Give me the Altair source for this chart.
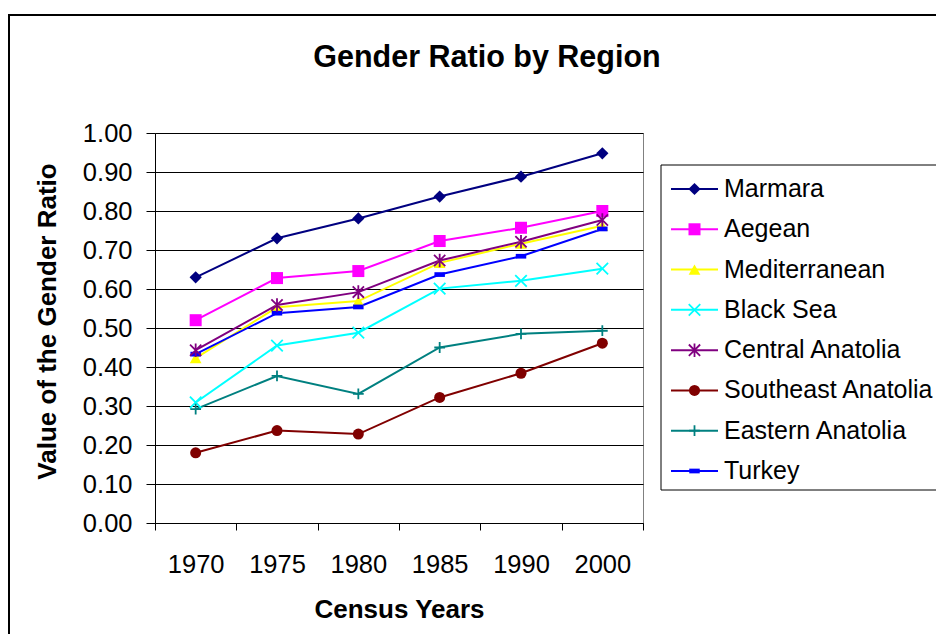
import altair as alt
import pandas as pd

# ---- data ----
years = ["1970", "1975", "1980", "1985", "1990", "2000"]
regions = ["Marmara", "Aegean", "Mediterranean", "Black Sea", "Central Anatolia",
           "Southeast Anatolia", "Eastern Anatolia", "Turkey"]
marmara = [0.630, 0.730, 0.781, 0.837, 0.888, 0.948]
aegean = [0.520, 0.628, 0.646, 0.723, 0.757, 0.800]
mediterranean = [0.423, 0.553, 0.569, 0.667, 0.716, 0.762]
black_sea = [0.309, 0.455, 0.488, 0.601, 0.621, 0.652]
central_anatolia = [0.443, 0.559, 0.592, 0.673, 0.721, 0.777]
southeast_anatolia = [0.180, 0.237, 0.228, 0.322, 0.384, 0.461]
eastern_anatolia = [0.292, 0.377, 0.331, 0.450, 0.485, 0.493]
turkey = [0.433, 0.538, 0.554, 0.637, 0.684, 0.754]
y_ticks = [0.0, 0.1, 0.2, 0.3, 0.4, 0.5, 0.6, 0.7, 0.8, 0.9, 1.0]
chart_title = "Gender Ratio by Region"

# ---- styles ----
colors = ["#000080", "#FF00FF", "#FFFF00", "#00FFFF", "#800080", "#800000", "#008080", "#0000FF"]
shapes = ["diamond", "square", "triangle-up",
          "M-1,-1L1,1M-1,1L1,-1",
          "M-1,-1L1,1M-1,1L1,-1M0,-1.2L0,1.2",
          "circle",
          "M-1,0L1,0M0,-1L0,1",
          "M-1,-0.45L1,-0.45L1,0.45L-1,0.45Z"]
sizes = [150, 110, 120, 100, 110, 100, 120, 36]
filled_regions = ["Marmara", "Aegean", "Mediterranean", "Southeast Anatolia", "Turkey"]
stroked_regions = ["Black Sea", "Central Anatolia", "Eastern Anatolia"]

series_values = [marmara, aegean, mediterranean, black_sea, central_anatolia,
                 southeast_anatolia, eastern_anatolia, turkey]
rows = []
for name, vals in zip(regions, series_values):
    for yr, v in zip(years, vals):
        rows.append({"series": name, "year": yr, "value": v})
df = pd.DataFrame(rows)
df_leg = pd.DataFrame({"series": regions})

FONT = "Liberation Sans"

color_enc = alt.Color("series:N", scale=alt.Scale(domain=regions, range=colors), legend=None)
shape_enc = alt.Shape("series:N", scale=alt.Scale(domain=regions, range=shapes), legend=None)
size_enc = alt.Size("series:N", scale=alt.Scale(domain=regions, range=sizes), legend=None)

x_enc = alt.X("year:O", sort=years,
              scale=alt.Scale(type="band", domain=years, paddingInner=0, paddingOuter=0),
              bandPosition=0.5,
              axis=alt.Axis(title="Census Years", labelAngle=0, tickBand="extent",
                            tickSize=7, labelPadding=22, titleY=86, titleBaseline="middle",
                            grid=False, labelFontSize=25.5, titleFontSize=26,
                            titleFontWeight="bold", labelFont=FONT, titleFont=FONT,
                            domainColor="black", tickColor="black",
                            labelColor="black", titleColor="black"))
y_enc = alt.Y("value:Q", scale=alt.Scale(domain=[0, 1], nice=False, zero=True),
              axis=alt.Axis(title="Value of the Gender Ratio", values=y_ticks, format=".2f",
                            tickSize=9, labelPadding=14, grid=True, gridColor="black",
                            gridWidth=1, titleX=-108, titleY=188, titleBaseline="middle",
                            labelFontSize=25.5, titleFontSize=26,
                            titleFontWeight="bold", labelFont=FONT, titleFont=FONT,
                            domainColor="black", tickColor="black",
                            labelColor="black", titleColor="black"))

base = alt.Chart(df)
lines = base.mark_line(strokeWidth=2).encode(x=x_enc, y=y_enc, color=color_enc, detail="series:N")
pts_f = base.mark_point(filled=True, opacity=1).encode(
    x=x_enc, y=y_enc, color=color_enc, shape=shape_enc, size=size_enc
).transform_filter(alt.FieldOneOfPredicate(field="series", oneOf=filled_regions))
pts_s = base.mark_point(filled=False, opacity=1, strokeWidth=1.8).encode(
    x=x_enc, y=y_enc, color=color_enc, shape=shape_enc, size=size_enc
).transform_filter(alt.FieldOneOfPredicate(field="series", oneOf=stroked_regions))
main = alt.layer(lines, pts_f, pts_s)

# ---- legend drawn as marks ----
leg_y = alt.Y("series:N", sort=regions,
              scale=alt.Scale(type="point", domain=regions, range=[56, 338], padding=0),
              axis=None)
lbase = alt.Chart(df_leg)
leg_rule = lbase.mark_rule(strokeWidth=2).encode(
    x=alt.value(516), x2=alt.value(563), y=leg_y, color=color_enc)
leg_pf = lbase.mark_point(filled=True, opacity=1).encode(
    x=alt.value(539.5), y=leg_y, color=color_enc, shape=shape_enc, size=size_enc
).transform_filter(alt.FieldOneOfPredicate(field="series", oneOf=filled_regions))
leg_ps = lbase.mark_point(filled=False, opacity=1, strokeWidth=1.8).encode(
    x=alt.value(539.5), y=leg_y, color=color_enc, shape=shape_enc, size=size_enc
).transform_filter(alt.FieldOneOfPredicate(field="series", oneOf=stroked_regions))
leg_text = lbase.mark_text(align="left", baseline="middle", fontSize=25, font=FONT,
                           color="black").encode(x=alt.value(569), y=leg_y, text="series:N")
legend = alt.layer(leg_rule, leg_pf, leg_ps, leg_text)

one = pd.DataFrame({"title": [chart_title]})
leg_box = alt.Chart(one).mark_rect(filled=False, stroke="black", strokeWidth=1).encode(
    x=alt.value(506), x2=alt.value(900), y=alt.value(32), y2=alt.value(357))
outer = alt.Chart(one).mark_rect(filled=False, stroke="black", strokeWidth=2).encode(
    x=alt.value(-146), x2=alt.value(900), y=alt.value(-118), y2=alt.value(700))
title_mark = alt.Chart(one).mark_text(
    align="center", baseline="middle", font=FONT, fontSize=30.5, fontWeight="bold",
    color="black").encode(x=alt.value(332), y=alt.value(-75), text="title:N")

chart = alt.layer(main, legend, leg_box, outer, title_mark).resolve_scale(y="independent").properties(
    width=488, height=390,
    padding={"left": 147, "top": 125, "right": 293, "bottom": 111},
    autosize=alt.AutoSizeParams(type="none"),
    background="white",
).configure_view(stroke="#808080", strokeWidth=1)

chart.save("out.html", embed_options={"renderer": "svg", "actions": False})
